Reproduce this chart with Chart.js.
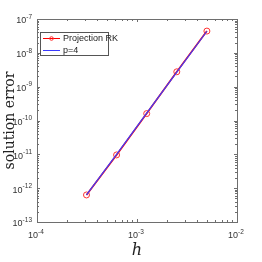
<!DOCTYPE html>
<html><head><meta charset="utf-8">
<script src="https://cdn.jsdelivr.net/npm/chart.js@4/dist/chart.umd.min.js"></script>
<style>html,body{margin:0;padding:0;background:#fff}#wrap{width:262px;height:262px}</style>
</head><body><div id="wrap"><canvas id="c" width="262" height="262"></canvas></div>
<script>
const stepSizes = [0.0003125, 0.000625, 0.00125, 0.0025, 0.005];
const projectionRK = [6.3e-13, 9.6e-12, 1.6e-10, 2.75e-9, 4.4e-8];
const orderFour = [6.3e-13, 1.0e-11, 1.65e-10, 2.7e-9, 4.35e-8];
const xTickExps = [-4, -3, -2];
const yTickExps = [-13, -12, -11, -10, -9, -8, -7];
const seriesLabels = ['Projection RK', 'p=4'];

const NARROW = '"Liberation Sans Narrow","Liberation Sans",Arial,sans-serif';
const AX = '#6e6e6e';

function pow10Label(ctx, x, y, exp, align) {
  const base = '10', ex = String(exp);
  ctx.font = '9px ' + NARROW;
  const bw = ctx.measureText(base).width;
  ctx.font = '6.5px ' + NARROW;
  const ew = ctx.measureText(ex).width;
  const total = bw + ew;
  let sx = align === 'right' ? x - total : x - total / 2;
  ctx.fillStyle = '#333';
  ctx.textBaseline = 'middle';
  ctx.textAlign = 'left';
  ctx.font = '9px ' + NARROW;
  ctx.fillText(base, sx, y);
  ctx.font = '6.5px ' + NARROW;
  ctx.fillText(ex, sx + bw, y - 4);
}

const frame = {
  id: 'frame',
  afterDatasetsDraw(chart) {
    const {ctx, chartArea: a, scales} = chart;
    ctx.save();
    ctx.strokeStyle = AX;
    ctx.lineWidth = 1;
    ctx.strokeRect(Math.round(a.left) + 0.5, Math.round(a.top) + 0.5, Math.round(a.right - a.left), Math.round(a.bottom - a.top));
    ctx.beginPath();
    for (let e = xTickExps[0]; e < xTickExps[xTickExps.length - 1] + 1; e++) {
      for (let m = 1; m <= 9; m++) {
        const v = m * Math.pow(10, e);
        if (v < scales.x.min * 0.999 || v > scales.x.max * 1.001) continue;
        const px = Math.round(scales.x.getPixelForValue(v)) + 0.5;
        const L = m === 1 ? 3 : 2;
        ctx.moveTo(px, a.bottom); ctx.lineTo(px, a.bottom - L);
        ctx.moveTo(px, a.top); ctx.lineTo(px, a.top + L);
      }
    }
    for (let e = yTickExps[0]; e < yTickExps[yTickExps.length - 1] + 1; e++) {
      for (let m = 1; m <= 9; m++) {
        const v = m * Math.pow(10, e);
        if (v < scales.y.min * 0.999 || v > scales.y.max * 1.001) continue;
        const py = Math.round(scales.y.getPixelForValue(v)) + 0.5;
        const L = m === 1 ? 3 : 2;
        ctx.moveTo(a.left, py); ctx.lineTo(a.left + L, py);
        ctx.moveTo(a.right, py); ctx.lineTo(a.right - L, py);
      }
    }
    ctx.stroke();
    xTickExps.forEach(e => {
      const px = scales.x.getPixelForValue(Math.pow(10, e));
      pow10Label(ctx, px - 1, a.bottom + 14, e, 'center');
    });
    yTickExps.forEach(e => {
      const py = scales.y.getPixelForValue(Math.pow(10, e));
      pow10Label(ctx, a.left - 5, py + 2, e, 'right');
    });
    // legend
    const lx = a.left + 3, ly = a.top + 13, lw = 68, lh = 23;
    ctx.fillStyle = '#fff';
    ctx.fillRect(lx, ly, lw, lh);
    ctx.strokeStyle = '#555';
    ctx.lineWidth = 1;
    ctx.strokeRect(lx + 0.5, ly + 0.5, lw, lh);
    chart.data.datasets.forEach((ds, i) => {
      const yy = Math.round(ly + 6 + i * 12);
      ctx.strokeStyle = ds.borderColor;
      ctx.lineWidth = 1;
      ctx.beginPath(); ctx.moveTo(lx + 3, yy + 0.5); ctx.lineTo(lx + 20, yy + 0.5); ctx.stroke();
      if (ds.pointRadius > 0) {
        ctx.strokeStyle = ds.pointBorderColor;
        ctx.beginPath(); ctx.arc(lx + 11.5, yy + 0.5, 1.8, 0, Math.PI * 2); ctx.stroke();
      }
      ctx.fillStyle = '#222';
      ctx.font = '9px ' + NARROW;
      ctx.textAlign = 'left'; ctx.textBaseline = 'middle';
      ctx.fillText(ds.label, lx + 23, yy + 1);
    });
    ctx.restore();
  }
};

new Chart(document.getElementById('c'), {
  type: 'line',
  data: {
    labels: stepSizes,
    datasets: [
      { label: seriesLabels[0], data: stepSizes.map((h, i) => ({x: h, y: projectionRK[i]})), order: 1,
        borderColor: '#ff0000', borderWidth: 1.6, pointRadius: 3, pointBorderColor: '#ff3030',
        pointBackgroundColor: 'rgba(0,0,0,0)', pointBorderWidth: 1, fill: false, tension: 0 },
      { label: seriesLabels[1], data: stepSizes.map((h, i) => ({x: h, y: orderFour[i]})), order: 0,
        borderColor: '#3b3bff', borderWidth: 1.2, pointRadius: 0, fill: false, tension: 0 }
    ]
  },
  options: {
    responsive: false, animation: false, devicePixelRatio: 1,
    layout: { padding: { top: 19, right: 25, left: 0, bottom: 0 } },
    plugins: { legend: { display: false }, tooltip: { enabled: false } },
    scales: {
      x: { type: 'logarithmic', min: 1e-4, max: 1e-2,
        grid: { display: false }, border: { display: false }, ticks: { display: false },
        title: { display: true, text: 'h', color: '#222', font: { family: '"DejaVu Serif",serif', size: 16, style: 'italic' }, padding: { top: 0, bottom: 2 } },
        afterFit(s) { s.height = 40; } },
      y: { type: 'logarithmic', min: 1e-13, max: 1e-7,
        grid: { display: false }, border: { display: false }, ticks: { display: false },
        title: { display: true, text: 'solution error', color: '#222', font: { family: '"DejaVu Serif",serif', size: 14 }, padding: { top: 2, bottom: 0 } },
        afterFit(s) { s.width = 37; } }
    }
  },
  plugins: [frame]
});
</script></body></html>
